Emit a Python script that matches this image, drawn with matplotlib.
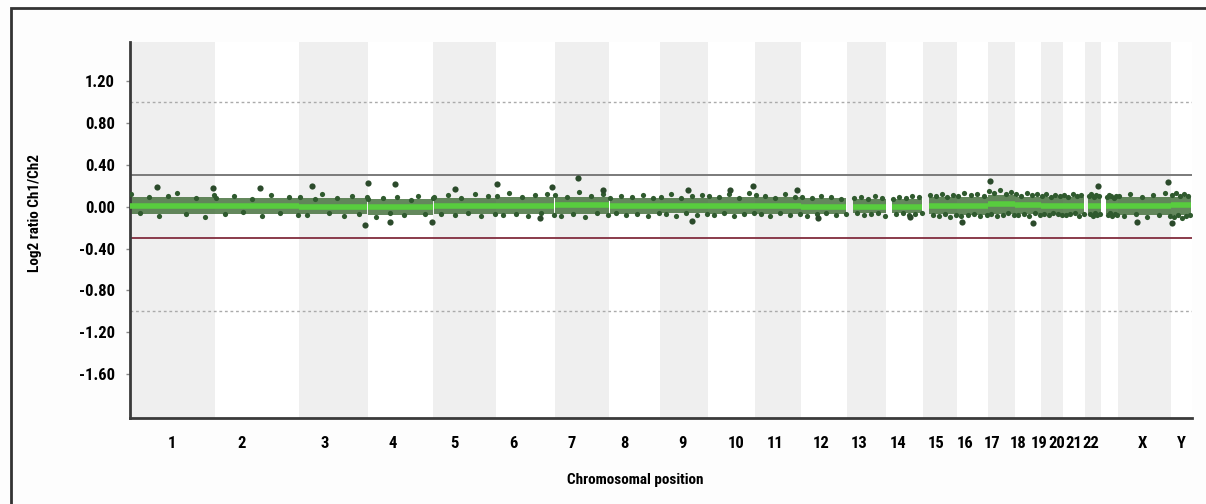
#array CGH style genome plot - log2 ratio along all chromosomes
import numpy as np
import matplotlib
matplotlib.use('Agg')
import matplotlib.pyplot as plt
from matplotlib.patches import Rectangle

plt.rcParams['font.family'] = ['Roboto Condensed', 'Open Sans Condensed', 'Liberation Sans Narrow',
                               'Liberation Sans', 'DejaVu Sans']

#chromosome names and sizes in Mb
chrom_names = ['1', '2', '3', '4', '5', '6', '7', '8', '9', '10', '11', '12',
               '13', '14', '15', '16', '17', '18', '19', '20', '21', '22', 'X', 'Y']
chrom_mb = [247.2, 242.9, 199.5, 191.3, 180.9, 170.9, 158.8, 146.3, 140.3, 135.4, 134.5, 132.3,
            114.1, 106.4, 100.3, 88.8, 78.8, 76.1, 63.8, 62.4, 46.9, 49.7, 154.9, 57.8]
# where probes start on each chromosome (acrocentric p-arms have none)
data_start = [0, 0, 0, 0, 0, 0, 0, 0, 0, 0, 0, 0,
              18, 18, 19, 0, 0, 0, 0, 0, 10, 15, 0, 0]
# tick label positions (genome Mb)
label_pos = [122, 325, 566, 763, 943, 1112, 1283, 1434, 1605, 1759, 1872, 2006,
             2116, 2229, 2339, 2424, 2502, 2578, 2638, 2690, 2740, 2790, 2940, 3051]

#segment mean (green line) per chromosome
seg_mean = [0.01, 0.01, 0.0, 0.0, 0.01, 0.01, 0.02, 0.01, 0.01, 0.01, 0.01, 0.0,
            0.0, 0.0, 0.01, 0.01, 0.03, 0.02, 0.01, 0.01, 0.01, 0.01, 0.01, 0.02]
#dense cloud of probes - upper / lower edge
cloud_hi = [0.09, 0.08, 0.08, 0.07, 0.08, 0.09, 0.09, 0.08, 0.08, 0.09, 0.09, 0.08,
            0.07, 0.07, 0.09, 0.09, 0.11, 0.09, 0.09, 0.09, 0.09, 0.08, 0.09, 0.09]
cloud_lo = [-0.07, -0.07, -0.07, -0.08, -0.07, -0.07, -0.07, -0.07, -0.06, -0.07, -0.07, -0.07,
            -0.06, -0.06, -0.07, -0.08, -0.07, -0.07, -0.07, -0.07, -0.07, -0.07, -0.08, -0.08]
#individual probes sticking out of the cloud
dot_vals = [
    [0.12, -0.06, 0.09, -0.09, 0.10, 0.13, -0.07, 0.08, -0.10, 0.11],
    [0.08, -0.07, 0.10, -0.05, 0.07, -0.09, 0.11, -0.06, 0.09, -0.08],
    [0.09, -0.08, 0.07, 0.12, -0.06, 0.08, -0.09, 0.10, -0.07, 0.09],
    [0.07, -0.10, 0.08, -0.06, 0.09, -0.08, 0.06, 0.10, -0.07, 0.08],
    [0.09, -0.07, 0.11, -0.08, 0.08, -0.06, 0.12, -0.09, 0.10, -0.07],
    [0.10, -0.08, 0.13, -0.07, 0.09, -0.09, 0.11, -0.06, 0.12, -0.08],
    [0.11, -0.09, 0.09, -0.07, 0.14, -0.10, 0.10, -0.06, 0.12, -0.08],
    [0.08, -0.06, 0.10, -0.08, 0.09, -0.07, 0.11, -0.09, 0.08, -0.06],
    [0.09, -0.07, 0.12, -0.09, 0.08, -0.06, 0.10, -0.08, 0.11, -0.07],
    [0.10, -0.08, 0.09, -0.06, 0.12, -0.09, 0.08, -0.07, 0.13, -0.06],
    [0.11, -0.07, 0.10, -0.09, 0.08, -0.06, 0.12, -0.08, 0.09, -0.07],
    [0.09, -0.09, 0.08, -0.07, 0.10, -0.06, 0.09, -0.08, 0.07, -0.07],
    [0.08, -0.06, 0.09, -0.08, 0.07, -0.07, 0.10, -0.06, 0.08, -0.09],
    [0.07, -0.07, 0.09, -0.06, 0.08, -0.08, 0.10, -0.07, 0.09, -0.06],
    [0.11, -0.08, 0.10, -0.09, 0.12, -0.07, 0.09, -0.10, 0.11, -0.08],
    [0.10, -0.09, 0.13, -0.08, 0.11, -0.07, 0.12, -0.09, 0.10, -0.08],
    [0.15, -0.07, 0.13, -0.09, 0.16, -0.08, 0.12, -0.06, 0.14, -0.08],
    [0.12, -0.08, 0.10, -0.07, 0.13, -0.09, 0.11, -0.06, 0.12, -0.08],
    [0.10, -0.07, 0.12, -0.08, 0.09, -0.06, 0.11, -0.07, 0.10, -0.08],
    [0.11, -0.08, 0.09, -0.07, 0.12, -0.06, 0.10, -0.09, 0.11, -0.07],
    [0.10, -0.07, 0.12, -0.09, 0.09, -0.06, 0.11, -0.08, 0.10, -0.07],
    [0.09, -0.08, 0.11, -0.06, 0.10, -0.09, 0.08, -0.07, 0.10, -0.08],
    [0.10, -0.09, 0.12, -0.07, 0.09, -0.10, 0.11, -0.08, 0.13, -0.09],
    [0.11, -0.10, 0.13, -0.08, 0.10, -0.11, 0.12, -0.09, 0.10, -0.08],
]
#bigger outliers (genome Mb, log2 ratio)
out_pos = [78, 241, 377, 528, 682, 691, 755, 769, 877, 943, 1065, 1190, 1225, 1300, 1373,
           1620, 1631, 1742, 1808, 1936, 1997, 2264, 2415, 2496, 2621, 2810, 2923, 3013, 3025]
out_val = [0.19, 0.18, 0.18, 0.20, -0.17, 0.23, -0.15, 0.22, -0.15, 0.17, 0.22, -0.11, 0.19, 0.27, 0.16,
           0.16, -0.14, 0.16, 0.20, 0.16, -0.11, -0.10, -0.15, 0.25, -0.16, 0.20, -0.15, 0.24, -0.16]

yticks = [1.2, 0.8, 0.4, 0.0, -0.4, -0.8, -1.2, -1.6]

chrom_start = np.concatenate([[0], np.cumsum(chrom_mb)[:-1]])
chrom_end = np.cumsum(chrom_mb)

fig = plt.figure(figsize=(12.06, 5.04), dpi=100, facecolor='#fdfdfd')
ax = fig.add_axes([0.1078, 0.1706, 0.8806, 0.7461])
ax.set_facecolor('white')

#grey bands for every other chromosome
for i in range(len(chrom_mb)):
    if i % 2 == 0:
        ax.axvspan(chrom_start[i], chrom_end[i], color='#efefef', lw=0, zorder=0)

#threshold lines
ax.axhline(1.0, color='#aaaaaa', ls=(0, (2, 2)), lw=1, zorder=1)
ax.axhline(-1.0, color='#aaaaaa', ls=(0, (2, 2)), lw=1, zorder=1)
ax.axhline(0.3, color='#7a7a7a', lw=1.4, zorder=1)
ax.axhline(-0.3, color='#8a3b4b', lw=1.4, zorder=1)

for i in range(len(chrom_mb)):
    x0 = chrom_start[i] + data_start[i] + 0.5
    x1 = chrom_end[i] - 0.5
    ax.fill_between([x0, x1], cloud_lo[i], cloud_hi[i], color='#3d6b35', alpha=0.8, lw=0, zorder=2)
    xs = np.linspace(x0 + 2, x1 - 2, len(dot_vals[i]))
    ax.scatter(xs, dot_vals[i], s=14, color='#2f5a2e', lw=0, zorder=3)
    ax.plot([x0, x1], [seg_mean[i], seg_mean[i]], color='#58cc3e', lw=4, solid_capstyle='butt', zorder=4)

ax.scatter(out_pos, out_val, s=20, color='#2b4a2b', lw=0, zorder=5)

ax.set_xlim(0, 3083)
ax.set_ylim(-2.02, 1.575)
ax.set_yticks(yticks)
ax.set_yticklabels(['%.2f' % v for v in yticks])
ax.set_xticks(label_pos)
ax.set_xticklabels(chrom_names)
ax.tick_params(axis='x', length=0, pad=13, labelsize=12)
ax.tick_params(axis='y', length=3, width=1, color='#888888', pad=8, labelsize=12)
for lab in ax.get_xticklabels() + ax.get_yticklabels():
    lab.set_fontweight('bold')

for s in ['top', 'right']:
    ax.spines[s].set_visible(False)
for s in ['left', 'bottom']:
    ax.spines[s].set_color('#3a3a3a')
    ax.spines[s].set_linewidth(2)

ax.set_ylabel('Log2 ratio Ch1/Ch2', fontsize=11, fontweight='bold')
ax.set_xlabel('Chromosomal position', fontsize=11, fontweight='bold')
ax.yaxis.set_label_coords((42 - 130) / 1062, 0.545)
ax.xaxis.set_label_coords(0.476, -0.145)

#outer frame of the figure panel
fig.patches.append(Rectangle((11 / 1206, -0.1), 1.2, (504 - 8) / 504 + 0.1, transform=fig.transFigure,
                             fill=False, edgecolor='#333333', lw=2))

fig.savefig('out.png', dpi=100, facecolor=fig.get_facecolor())
